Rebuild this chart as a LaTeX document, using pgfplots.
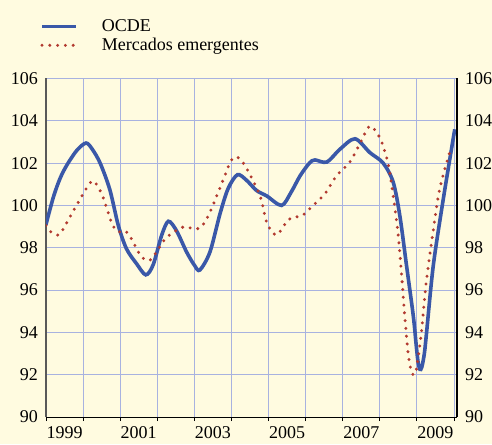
\documentclass[border=0pt]{standalone}
\usepackage{fontspec}
\setmainfont{Liberation Serif}
\usepackage{pgfplots}
\pgfplotsset{compat=1.18}

\definecolor{cream}{RGB}{255,251,224}
\definecolor{ocde}{RGB}{58,88,168}
\definecolor{emerg}{RGB}{178,58,48}
\definecolor{gridc}{RGB}{168,178,224}

\begin{document}
\begin{tikzpicture}[x=1pt,y=1pt]
\clip (0,0) rectangle (492,444);
\fill[cream] (0,0) rectangle (492,444);

\begin{axis}[
    at={(46pt,27pt)}, anchor=south west,
    scale only axis, width=411pt, height=338.5pt,
    xmin=1999, xmax=2010.08,
    ymin=90, ymax=106,
    axis x line*=bottom, axis y line*=left,
    x axis line style={-, black, line width=0.9pt},
    y axis line style={-, black!65, line width=1.6pt},
    xtick={1999,...,2010}, xticklabels={},
    extra x ticks={1999.5,2001.5,2003.5,2005.5,2007.5,2009.5},
    extra x tick labels={1999,2001,2003,2005,2007,2009},
    extra x tick style={grid=none, major tick length=0pt},
    ytick={90,92,...,106},
    major x tick style={black, line width=0.9pt},
    xtick align=outside, major tick length=4pt,
    ytick style={draw=none},
    grid=major,
    major grid style={gridc, line width=0.9pt},
    tick label style={font=\fontsize{18}{20}\selectfont},
    /pgf/number format/assume math mode=true,
    /pgf/number format/1000 sep={},
    yticklabel style={inner xsep=0pt, xshift=-8pt},
    xticklabel style={inner ysep=0pt, yshift=-9pt, anchor=north},
    legend style={at={(0,1)}, anchor=south west, xshift=-6pt, yshift=24pt,
        draw=none, fill=none, font=\fontsize{18}{20}\selectfont,
        row sep=1pt, inner sep=0pt},
    legend cell align=left,
    /tikz/every odd column/.style={column sep=22pt},
    legend image code/.code={\draw[#1] (0pt,0pt) -- (34pt,0pt);},
]
\addplot[ocde, line width=3.6pt, smooth, tension=0.5] coordinates {
(1999.0,99.1)(1999.2,100.4)(1999.38,101.28)(1999.56,101.9)(1999.83,102.6)
(2000.08,102.95)(2000.25,102.65)(2000.46,102.0)(2000.72,100.75)(2000.95,99.05)
(2001.17,97.95)(2001.44,97.25)(2001.69,96.72)(2001.89,97.2)(2002.12,98.6)
(2002.3,99.25)(2002.52,98.8)(2002.79,97.8)(2003.01,97.15)(2003.15,96.95)
(2003.42,97.8)(2003.69,99.6)(2003.91,100.8)(2004.16,101.45)(2004.4,101.2)
(2004.68,100.7)(2004.95,100.45)(2005.35,100.0)(2005.6,100.6)(2005.85,101.4)
(2006.1,102.0)(2006.25,102.15)(2006.57,102.05)(2006.92,102.65)(2007.33,103.15)
(2007.73,102.5)(2008.09,102.0)(2008.36,101.1)(2008.54,99.5)(2008.72,97.15)
(2008.9,94.8)(2008.98,93.4)(2009.03,92.6)(2009.08,92.25)(2009.13,92.35)
(2009.2,93.0)(2009.26,94.0)(2009.44,97.15)(2009.71,100.3)(2010.02,103.6)
};
\addlegendentry{OCDE}
\addplot[emerg, line width=3.3pt, line cap=round, dash pattern=on 0pt off 7.8pt, smooth, tension=0.5] coordinates {
(1999.0,99.05)(1999.13,98.75)(1999.33,98.6)(1999.47,98.9)(1999.69,99.6)
(1999.92,100.3)(2000.14,100.95)(2000.29,101.15)(2000.5,100.55)(2000.65,99.8)
(2000.8,99.05)(2000.95,98.75)(2001.13,98.8)(2001.28,98.5)(2001.49,97.8)
(2001.62,97.5)(2001.8,97.4)(2001.94,97.7)(2002.2,98.4)(2002.37,98.65)
(2002.54,98.85)(2002.75,99.0)(2002.95,98.9)(2003.17,98.95)(2003.4,99.6)
(2003.66,100.7)(2003.82,101.4)(2003.98,102.1)(2004.14,102.3)(2004.36,101.9)
(2004.63,101.0)(2004.8,100.3)(2004.95,99.2)(2005.2,98.6)(2005.48,99.2)
(2005.65,99.45)(2005.89,99.5)(2006.2,100.0)(2006.52,100.55)(2006.83,101.4)
(2007.19,102.05)(2007.5,103.05)(2007.73,103.75)(2008.0,103.2)(2008.22,102.0)
(2008.36,100.45)(2008.49,98.7)(2008.58,96.85)(2008.67,94.8)(2008.76,93.05)
(2008.84,92.2)(2008.9,92.0)(2008.98,92.2)(2009.12,94.0)(2009.25,96.35)
(2009.43,98.7)(2009.61,100.75)(2009.88,102.5)(2009.95,102.7)
};
\addlegendentry{Mercados emergentes}
\end{axis}

\begin{axis}[
    at={(46pt,27pt)}, anchor=south west,
    scale only axis, width=411pt, height=338.5pt,
    xmin=1999, xmax=2010.08,
    ymin=90, ymax=106,
    axis x line=none, axis y line*=right,
    y axis line style={-, black, line width=1.2pt},
    ytick={90,92,...,106},
    ytick style={draw=none},
    tick label style={font=\fontsize{18}{20}\selectfont},
    /pgf/number format/assume math mode=true,
    yticklabel style={inner xsep=0pt, xshift=8pt},
]
\addplot[draw=none] coordinates {(1999,90)};
\end{axis}
\end{tikzpicture}
\end{document}
